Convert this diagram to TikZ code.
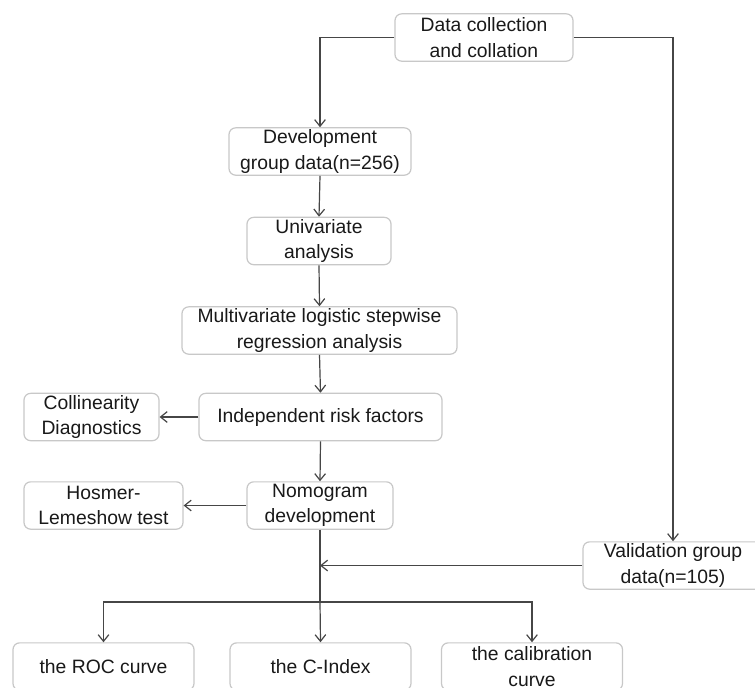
\documentclass[tikz,border=0pt]{standalone}
\usepackage{fontspec}
\setmainfont{Liberation Sans}
\usepackage{tikz}
\usetikzlibrary{arrows.meta,calc}
\definecolor{boxgray}{RGB}{200,200,200}
\definecolor{linegray}{RGB}{70,70,70}

\begin{document}
\begin{tikzpicture}[x=0.75pt,y=-0.75pt,
  box/.style={draw=boxgray,line width=0.9pt,rounded corners=5pt,align=center,
    inner sep=0pt,minimum height=35.5pt,text=black!90,
    font=\fontsize{14.5}{19}\selectfont},
  arr/.style={draw=linegray,line width=0.9pt,-{Straight Barb[length=5pt,width=8pt]}},
  ln/.style={draw=linegray,line width=0.9pt}]
\fill[white] (0,0) rectangle (755,687);
\useasboundingbox (0,0) rectangle (755,687);

% main column
\node[box,minimum width=133.5pt] (data) at (484,37.5) {Data collection\\and collation};
\node[box,minimum width=136.5pt] (dev) at (320,151.5) {Development\\group data(n=256)};
\node[box,minimum width=108pt] (univ) at (319,241) {Univariate\\analysis};
\node[box,minimum width=206.25pt] (multi) at (319.5,330.5) {Multivariate  logistic stepwise\\regression analysis};
\node[box,minimum width=182.25pt] (indep) at (320.5,417) {Independent risk factors};
\node[box,minimum width=109.5pt] (nomo) at (320,505.5) {Nomogram\\development};

% side boxes
\node[box,minimum width=101.25pt] (collin) at (91.5,417) {Collinearity\\Diagnostics};
\node[box,minimum width=119.25pt] (hosmer) at (103.5,505.5) {Hosmer-\\Lemeshow test};
\node[box,minimum width=135pt] (valid) at (673,565.5) {Validation group\\data(n=105)};

% bottom row
\node[box,minimum width=135.75pt] (roc) at (103.5,666.5) {the ROC curve};
\node[box,minimum width=135.75pt] (cidx) at (320.5,666.5) {the C-Index};
\node[box,minimum width=135.75pt] (calib) at (532,666.5) {the calibration\\curve};

\coordinate (split) at (320,602);

\draw[arr] (data.west) -| (dev.north);
\draw[arr] (data.east) -| (valid.north);
\draw[arr] (dev.south) -- (univ.north);
\draw[arr] (univ.south) -- (multi.north);
\draw[arr] (multi.south) -- (indep.north);
\draw[arr] (indep.west) -- (collin.east);
\draw[arr] (indep.south) -- (nomo.north);
\draw[arr] (nomo.west) -- (hosmer.east);
\draw[ln] (nomo.south) -- (split);
\draw[arr] (valid.west) -- (valid.west -| nomo.south);
\draw[arr] (split) -| (roc.north);
\draw[arr] (split) -| (calib.north);
\draw[arr] (split) -- (cidx.north);
\end{tikzpicture}
\end{document}
